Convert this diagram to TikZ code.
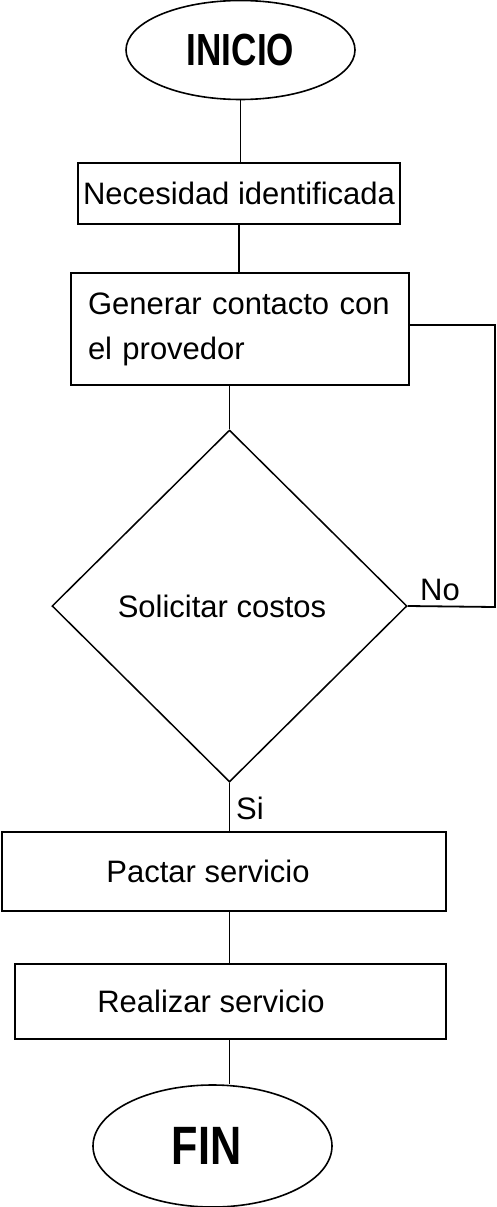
\documentclass[tikz,border=0pt]{standalone}
\usepackage{fontspec}
\setmainfont{Liberation Sans}
\usetikzlibrary{shapes.geometric}
\begin{document}
\begin{tikzpicture}[x=1pt,y=-1pt,
  line width=1.8pt,
  txt/.style={font=\fontsize{31}{45}\selectfont},
  term/.style={draw,ellipse,inner sep=0pt,line width=1.6pt},
  procbox/.style={draw,rectangle,inner sep=0pt,txt},
  decis/.style={draw,diamond,inner sep=0pt,txt,line width=1.5pt},
  conn/.style={draw,line width=1.8pt}]
\useasboundingbox (0,0) rectangle (496,1207);
\node[term,minimum width=229pt,minimum height=99pt] (inicio) at (240.5,50)
  {\fontsize{45}{50}\selectfont\bfseries\scalebox{0.78}[1]{INICIO}};
\node[procbox,minimum width=322pt,minimum height=61pt] (nec) at (239,193.5)
  {\raisebox{-4pt}{Necesidad identificada}};
\node[procbox,minimum width=338pt,minimum height=112pt,text width=304pt,align=left] (gen) at (240,329)
  {Generar contacto con\\el provedor};
\node[decis,minimum width=355pt,minimum height=352pt] (dia) at (229.5,606)
  {\hspace*{-15pt}Solicitar costos};
\node[procbox,minimum width=444pt,minimum height=79pt] (pac) at (224,871.5)
  {\hspace*{-32pt}\raisebox{-3pt}{Pactar servicio}};
\node[procbox,minimum width=431pt,minimum height=75pt] (real) at (230.5,1001.5)
  {\hspace*{-39pt}\raisebox{-3pt}{Realizar servicio}};
\node[term,minimum width=239pt,minimum height=122pt] (fin) at (212.5,1146)
  {\hspace*{-12pt}\fontsize{54}{60}\selectfont\bfseries\scalebox{0.8}[1]{FIN}};
\node[txt] (no) at (440,590) {No};
\node[txt] (si) at (250,808) {Si};
\coordinate (loopB) at (495,607);
\coordinate (loopT) at (495,325);
\draw[conn] (nec.north -| inicio.south) -- (inicio.south);
\draw[conn] (nec.south) -- (nec.south |- gen.north);
\draw[conn] (dia.north |- gen.south) -- (dia.north);
\draw[conn] (dia.east) -- (loopB) -- (loopT) -- (gen.east |- loopT);
\draw[conn] (dia.south) -- (dia.south |- pac.north);
\draw[conn] (dia.south |- pac.south) -- (dia.south |- real.north);
\draw[conn] (dia.south |- real.south) -- (dia.south |- fin.north);
\end{tikzpicture}
\end{document}
